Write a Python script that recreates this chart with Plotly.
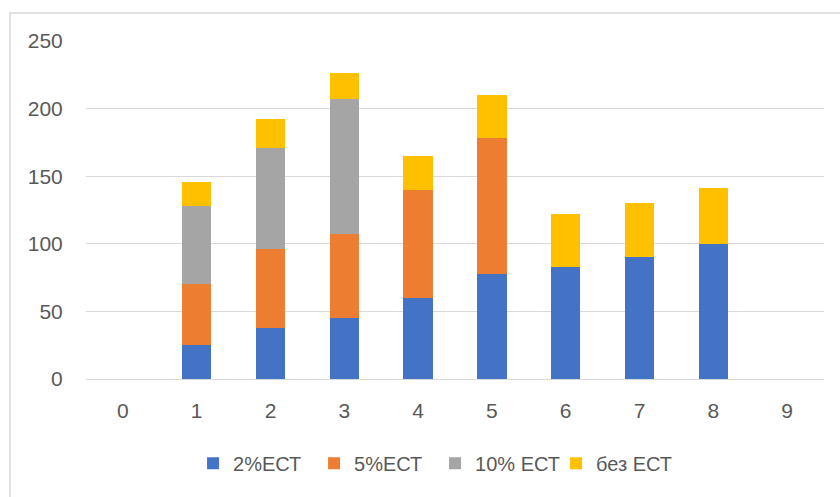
import plotly.graph_objects as go

categories = ["0", "1", "2", "3", "4", "5", "6", "7", "8", "9"]
s2 = [None, 25, 38, 45, 60, 78, 83, 90, 100, None]
s5 = [None, 45, 58, 62, 80, 100, None, None, None, None]
s10 = [None, 58, 75, 100, None, None, None, None, None, None]
s0 = [None, 18, 21, 19, 25, 32, 39, 40, 41, None]
names = ["2%ЕСТ", "5%ЕСТ", "10% ЕСТ", "без ЕСТ"]
colors = ["#4472C4", "#ED7D31", "#A5A5A5", "#FFC000"]
yticks = [0, 50, 100, 150, 200, 250]

font_family = "Liberation Sans, Arial, sans-serif"
fig = go.Figure()
for vals, name, col in zip([s2, s5, s10, s0], names, colors):
    fig.add_trace(go.Bar(x=categories, y=vals, name=name,
                         marker=dict(color=col, line=dict(width=0))))

fig.update_layout(
    barmode="stack",
    bargap=0.6,
    width=840, height=497,
    margin=dict(l=86, r=16, t=41, b=118),
    paper_bgcolor="white", plot_bgcolor="white",
    font=dict(family=font_family, size=21, color="#595959"),
    legend=dict(orientation="h", x=0.473, xanchor="center", y=-0.249, yanchor="middle",
                font=dict(size=20, color="#595959"), traceorder="normal",
                entrywidth=76, entrywidthmode="pixels"),
    xaxis=dict(type="category", showgrid=False, showline=True, linecolor="#d9d9d9", linewidth=1,
               ticks="outside", ticklen=13, tickcolor="rgba(0,0,0,0)", zeroline=False),
    yaxis=dict(range=[0, 250], tickvals=yticks, showgrid=True, gridcolor="#d9d9d9", gridwidth=1,
               zeroline=False, showline=False, ticks="outside", ticklen=18,
               tickcolor="rgba(0,0,0,0)"),
    shapes=[dict(type="rect", xref="paper", yref="paper", x0=-0.103, x1=1.06, y0=-0.6, y1=1.0828,
                 line=dict(color="#d9d9d9", width=1.5), fillcolor="rgba(0,0,0,0)", layer="below")],
)
fig.write_html("out.html")
